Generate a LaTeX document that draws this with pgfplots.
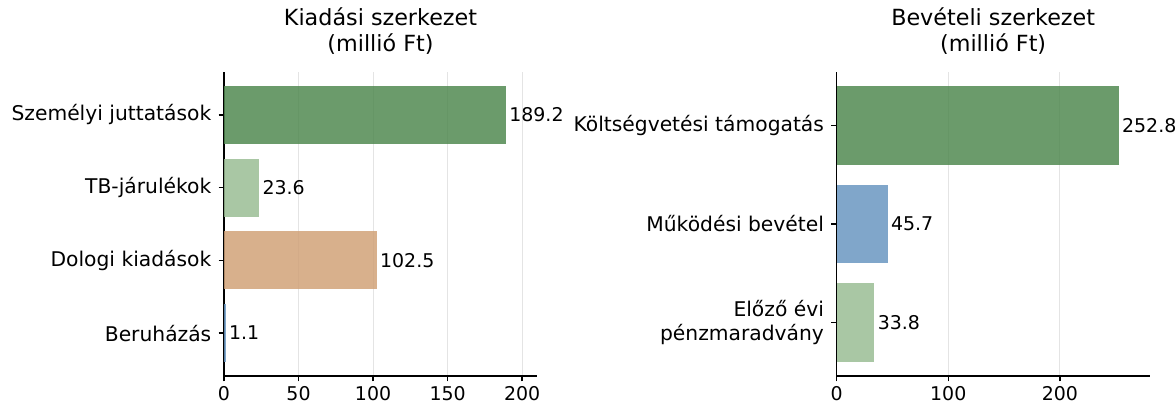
\documentclass[border=0pt]{standalone}
\usepackage{pgfplots}
\pgfplotsset{compat=1.18}
\usepackage{fontspec}
\setmainfont{DejaVu Sans}
\definecolor{dgreen}{RGB}{81,137,81}
\definecolor{lgreen}{RGB}{154,189,148}
\definecolor{tan}{RGB}{209,162,120}
\definecolor{lblue}{RGB}{106,151,193}
\definecolor{gridc}{RGB}{228,228,228}
\pgfplotsset{
  mybar/.style={
    scale only axis,
    width=234.75pt, height=228pt,
    xmin=0,
    xbar, bar width=0.8, bar shift=0,
    axis x line*=bottom, axis y line*=left,
    axis line style={-, line width=1.1pt, black},
    every tick/.style={line width=1.1pt, black},
    tick align=outside, major tick length=4pt,
    xmajorgrids, grid style={gridc, line width=0.8pt},
    font=\fontsize{14.2}{17}\selectfont,
    tick label style={font=\fontsize{14.2}{17}\selectfont},
    /pgf/number format/assume math mode=true,
    yticklabel style={align=right, xshift=-2pt, font=\fontsize{15.2}{18}\selectfont},
    title style={at={(0.5,1)}, anchor=south, yshift=4pt, align=center, font=\fontsize{16.7}{19.5}\selectfont},
    nodes near coords,
    nodes near coords style={anchor=west, xshift=-1pt, font=\fontsize{14.2}{17}\selectfont,
      /pgf/number format/.cd, fixed, fixed zerofill, precision=1, assume math mode=true},
    every axis plot/.append style={draw=none, fill opacity=0.85, text opacity=1},
  }
}
\begin{document}
\begin{tikzpicture}
\useasboundingbox (0,0) rectangle (881.25pt,-305.25pt);
\begin{axis}[mybar,
  at={(168pt,-282pt)}, anchor=south west,
  xmax=210, ymin=-0.59, ymax=3.59,
  xtick={0,50,100,150,200},
  ytick={0,1,2,3},
  yticklabels={Beruházás, Dologi kiadások, TB-járulékok, Személyi juttatások},
  title={Kiadási szerkezet\\(millió Ft)}]
\addplot[fill=dgreen] coordinates {(189.2,3)};
\addplot[fill=lgreen] coordinates {(23.6,2)};
\addplot[fill=tan] coordinates {(102.5,1)};
\addplot[fill=lblue] coordinates {(1.1,0)};
\end{axis}
\begin{axis}[mybar,
  at={(627.5pt,-282pt)}, anchor=south west,
  xmax=280.5, ymin=-0.54, ymax=2.54,
  xtick={0,100,200},
  ytick={0,1,2},
  yticklabels={{Előző évi\\pénzmaradvány}, Működési bevétel, Költségvetési támogatás},
  title={Bevételi szerkezet\\(millió Ft)}]
\addplot[fill=dgreen] coordinates {(252.8,2)};
\addplot[fill=lblue] coordinates {(45.7,1)};
\addplot[fill=lgreen] coordinates {(33.8,0)};
\end{axis}
\end{tikzpicture}
\end{document}
